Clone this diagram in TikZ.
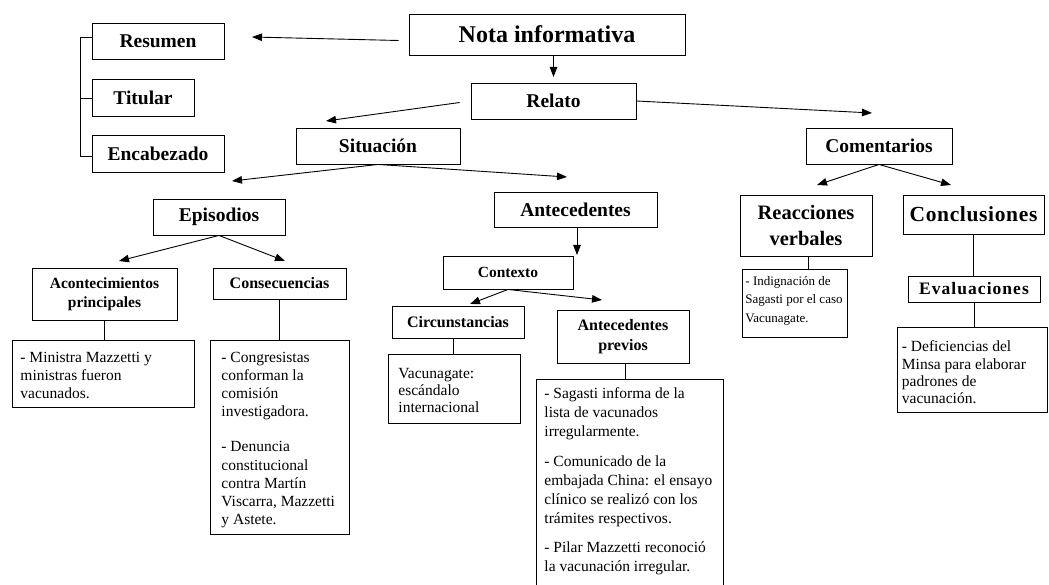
\documentclass[tikz,border=0pt]{standalone}
\usepackage{fontspec}
\setmainfont{Liberation Serif}
\usetikzlibrary{arrows.meta,calc}
\newcommand\txl[1]{\hbox to\hsize{#1\hfil}}
\begin{document}
\begin{tikzpicture}[x=1pt,y=-1pt,
  box/.style={draw=black, line width=0.9pt, inner sep=0pt, align=center},
  hb/.style={box, font=\fontsize{19.5}{24}\selectfont\bfseries},
  hs/.style={box, font=\fontsize{15.5}{19}\selectfont\bfseries},
  detail/.style={draw=black, line width=0.9pt, inner ysep=0pt, anchor=north west, font=\fontsize{15.5}{18.5}\selectfont},
  arr/.style={line width=0.9pt, -{Triangle[length=10pt,width=7.5pt]}},
  ln/.style={line width=0.9pt}]
\fill[white] (0,0) rectangle (1049,585);
\useasboundingbox (0,0) rectangle (1049,585);

% header boxes
\node[box, font=\fontsize{24}{28}\selectfont\bfseries, minimum width=276pt, minimum height=41pt] (nota) at (547,34.5) {Nota informativa};
\node[hb, minimum width=132pt, minimum height=36pt] (resumen) at (158,41) {Resumen};
\node[hb, minimum width=102pt, minimum height=37pt] (titular) at (143,97.5) {Titular};
\node[hb, minimum width=132pt, minimum height=37pt] (encab) at (158,153.5) {Encabezado};
\node[hb, minimum width=165pt, minimum height=36pt] (relato) at (553.5,101) {Relato};
\node[hb, minimum width=164pt, minimum height=36pt] (situacion) at (378,146) {Situación};
\node[hb, minimum width=146pt, minimum height=36pt] (comentarios) at (879,146) {Comentarios};
\node[hb, minimum width=132pt, minimum height=36pt] (episodios) at (219,217) {Episodios};
\node[hb, minimum width=163pt, minimum height=35pt] (antecedentes) at (575.5,209.5) {Antecedentes};
\node[box, font=\fontsize{20.5}{26}\selectfont\bfseries, minimum width=132pt, minimum height=61pt] (reacciones) at (806,225.5) {Reacciones\\verbales};
\node[box, font=\fontsize{21.5}{26}\selectfont\bfseries\addfontfeature{LetterSpace=3}, minimum width=141pt, minimum height=39pt] (conclusiones) at (973.5,214.5) {Conclusiones};
\node[hs, minimum width=145pt, minimum height=52pt] (acont) at (104.5,294) {Acontecimientos\\principales};
\node[hs, font=\fontsize{16}{19}\selectfont\bfseries, minimum width=133pt, minimum height=31pt] (consec) at (279.5,283.5) {Consecuencias};
\node[hs, minimum width=130pt, minimum height=33pt] (contexto) at (508,272.5) {Contexto};
\node[hs, font=\fontsize{16}{19}\selectfont\bfseries, minimum width=132pt, minimum height=32pt] (circ) at (458,322) {Circunstancias};
\node[hs, font=\fontsize{16}{20}\selectfont\bfseries, minimum width=132pt, minimum height=53pt] (antprev) at (623,336.5) {Antecedentes\\previos};
\node[box, font=\fontsize{17.5}{20}\selectfont\bfseries\addfontfeature{LetterSpace=6}, minimum width=132pt, minimum height=26pt] (evaluaciones) at (974,289) {Evaluaciones};

% detail boxes
\node[detail, inner xsep=8pt, minimum width=182pt, minimum height=67pt] (dacont) at (12,340)
  {\parbox[c][67pt][t]{166pt}{\baselineskip=18pt\vspace*{11.4pt}\txl{- Ministra Mazzetti y}\txl{ministras fueron}\txl{vacunados.}}};
\node[detail, inner xsep=11pt, minimum width=139pt, minimum height=194pt] (dconsec) at (210,340)
  {\parbox[c][194pt][t]{117pt}{\baselineskip=18.2pt\vspace*{11.4pt}\txl{- Congresistas}\txl{conforman la}\txl{comisión}\txl{investigadora.}\vskip17pt\txl{- Denuncia}\txl{constitucional}\txl{contra Martín}\txl{Viscarra,  Mazzetti}\txl{y Astete.}}};
\node[detail, inner xsep=10pt, minimum width=132pt, minimum height=69pt] (dcirc) at (388,354)
  {\parbox[c][69pt][t]{112pt}{\baselineskip=17pt\vspace*{13.4pt}\txl{Vacunagate:}\txl{escándalo}\txl{internacional}}};
\node[detail, inner xsep=8pt, minimum width=187pt, minimum height=230pt] (dantprev) at (536,379)
  {\parbox[c][230pt][t]{171pt}{\baselineskip=19pt\vspace*{8.4pt}\txl{- Sagasti  informa de la}\txl{lista de vacunados}\txl{irregularmente.}\vskip10.5pt\txl{- Comunicado de la}\txl{embajada China: el ensayo}\txl{clínico se realizó con los}\txl{trámites respectivos.}\vskip10.5pt\txl{- Pilar Mazzetti reconoció}\txl{la vacunación irregular.}}};
\node[detail, font=\fontsize{13}{18.5}\selectfont, inner xsep=3pt, minimum width=105pt, minimum height=68pt] (dreac) at (742,269)
  {\parbox[c][68pt][t]{99pt}{\baselineskip=18.5pt\vspace*{7pt}\txl{- Indignación de}\txl{Sagasti por el caso}\txl{Vacunagate.}}};
\node[detail, inner xsep=4.5pt, minimum width=150pt, minimum height=85pt] (deval) at (897,327)
  {\parbox[c][85pt][t]{141pt}{\baselineskip=17.4pt\vspace*{13.4pt}\txl{- Deficiencias del}\txl{Minsa para elaborar}\txl{padrones de}\txl{vacunación.}}};

% free arrow ends
\coordinate (tRes) at (252,37);
\coordinate (tRel) at (553.5,77);
\coordinate (tSit) at (326,121);
\coordinate (tCom) at (872,113);
\coordinate (tEpi) at (232,181);
\coordinate (tAnt) at (567,177);
\coordinate (tRea) at (817,185);
\coordinate (tCon) at (951,185);
\coordinate (tAco) at (119,261);
\coordinate (tCsc) at (285,261);
\coordinate (tCtx) at (577,255);
\coordinate (tCir) at (470,304);
\coordinate (tApr) at (602,300);

% connectors
\draw[arr] ($(nota.west)+(-10,6)$) -- (tRes);
\draw[arr] (tRel |- nota.south) -- (tRel);
\draw[arr, shorten <=11pt] (relato.west) -- (tSit);
\draw[arr] (relato.east) -- (tCom);
\draw[arr] (situacion.south) -- (tEpi);
\draw[arr] (situacion.south) -- (tAnt);
\draw[arr] (comentarios.south) -- (tRea);
\draw[arr] (comentarios.south) -- (tCon);
\draw[arr] (episodios.south) -- (tAco);
\draw[arr] (episodios.south) -- (tCsc);
\draw[arr] (tCtx |- antecedentes.south) -- (tCtx);
\draw[arr] (contexto.south) -- (tCir);
\draw[arr] (contexto.south) -- (tApr);
\draw[ln] (acont.south) -- (acont.south |- dacont.north);
\draw[ln] (consec.south) -- (consec.south |- dconsec.north);
\draw[ln] ($(circ.south)+(-5,0)$) -- ($(circ.south |- dcirc.north)+(-5,0)$);
\draw[ln] ($(antprev.south)+(2,0)$) -- ($(antprev.south |- dantprev.north)+(2,0)$);
\draw[ln] ($(reacciones.south)+(2,0)$) -- ($(reacciones.south |- dreac.north)+(2,0)$);
\draw[ln] (conclusiones.south) -- (conclusiones.south |- evaluaciones.north);
\draw[ln] (evaluaciones.south) -- (evaluaciones.south |- deval.north);

% bracket
\draw[ln] ([yshift=4pt]resumen.west) -- ++(-11,0) |- ([yshift=-2.5pt]encab.west);
\draw[ln] ([yshift=-1pt]titular.west) -- ++(-11,0);
\end{tikzpicture}
\end{document}
